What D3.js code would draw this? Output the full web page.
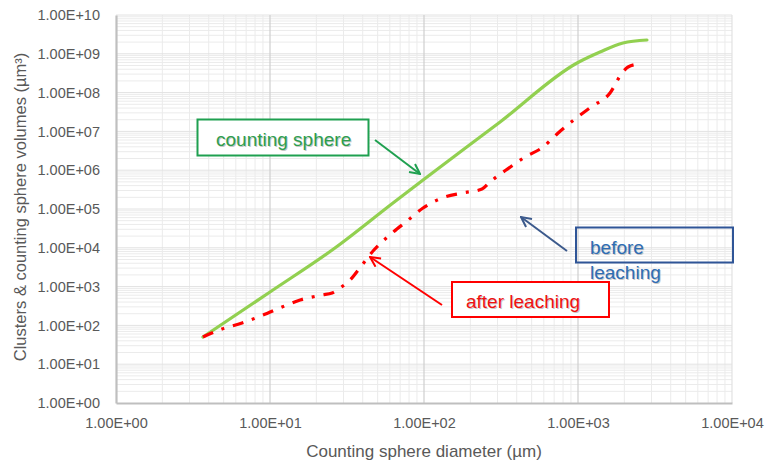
<!DOCTYPE html>
<html><head><meta charset="utf-8">
<script src="https://cdn.jsdelivr.net/npm/d3@7"></script>
<style>
html,body{margin:0;padding:0;background:#fff;}
svg{display:block;font-family:"Liberation Sans",Arial,sans-serif;}
</style></head>
<body><svg id="c" width="772" height="468"></svg>
<script>
// ---- data ----
const countingDiam = [3.67, 10.0, 26.4, 62.9, 98.6, 312, 986, 1390, 1960, 2805];
const countingVol  = [50.2, 726, 9890, 1.43e5, 5.59e5, 1.75e7, 5.79e8, 1.11e9, 1.9e9, 2.27e9];

const afterDiam = [3.67, 4.88, 6.58, 9.0, 11.97, 15.7, 21.8, 25.3, 28.5, 33.1, 39.6, 47.3, 62.0, 77.6, 98.6,
                   131, 177, 238, 268, 341, 453, 593, 731, 957, 1214, 1614, 1932, 2113, 2489];
const afterVol  = [50.2, 80.7, 115, 185, 298, 452, 608, 684, 920, 1480, 3600, 8770, 24000, 49100, 106000,
                   192000, 258000, 327000, 497000, 1.01e6, 2.19e6, 3.96e6, 8.57e6, 2.09e7, 4.26e7, 9.77e7, 3.2e8, 4.57e8, 5.46e8];

const xTickValues = [1, 10, 100, 1000, 10000];
const xTickLabels = ["1.00E+00", "1.00E+01", "1.00E+02", "1.00E+03", "1.00E+04"];
const yTickValues = [1, 10, 100, 1e3, 1e4, 1e5, 1e6, 1e7, 1e8, 1e9, 1e10];
const yTickLabels = ["1.00E+00", "1.00E+01", "1.00E+02", "1.00E+03", "1.00E+04", "1.00E+05",
                     "1.00E+06", "1.00E+07", "1.00E+08", "1.00E+09", "1.00E+10"];

const xTitle = "Counting sphere diameter (µm)";
const yTitle = "Clusters & counting sphere volumes (µm³)";

// ---- layout ----
const L = 116, R = 732, T = 15, B = 403;
const svg = d3.select("#c");
const x = d3.scaleLog().domain([1, 1e4]).range([L, R]);
const y = d3.scaleLog().domain([1, 1e10]).range([B, T]);

// minor grid
const minorX = [], minorY = [];
for (let e = 0; e < 4; e++) for (let m = 2; m <= 9; m++) minorX.push(m * Math.pow(10, e));
for (let e = 0; e < 10; e++) for (let m = 2; m <= 9; m++) minorY.push(m * Math.pow(10, e));

const grid = svg.append("g");
grid.selectAll(".mx").data(minorX).join("line")
  .attr("x1", d => x(d)).attr("x2", d => x(d)).attr("y1", T).attr("y2", B)
  .attr("stroke", "#ebebeb").attr("stroke-width", 1);
grid.selectAll(".my").data(minorY).join("line")
  .attr("x1", L).attr("x2", R).attr("y1", d => y(d)).attr("y2", d => y(d))
  .attr("stroke", "#ebebeb").attr("stroke-width", 1);
grid.selectAll(".My").data(yTickValues.slice(1)).join("line")
  .attr("x1", L).attr("x2", R).attr("y1", d => y(d)).attr("y2", d => y(d))
  .attr("stroke", "#e2e2e2").attr("stroke-width", 1);
grid.selectAll(".Mx").data(xTickValues.slice(1)).join("line")
  .attr("x1", d => x(d)).attr("x2", d => x(d)).attr("y1", T).attr("y2", B)
  .attr("stroke", d => d === 1e4 ? "#e2e2e2" : "#cfcfcf").attr("stroke-width", 1.2);

// axes
const xAxis = d3.axisBottom(x).tickValues(xTickValues).tickFormat((d, i) => xTickLabels[i]).tickSize(0).tickPadding(15);
const yAxis = d3.axisLeft(y).tickValues(yTickValues).tickFormat((d, i) => yTickLabels[i]).tickSize(0).tickPadding(16);
const gx = svg.append("g").attr("transform", `translate(0,${B})`).call(xAxis);
const gy = svg.append("g").attr("transform", `translate(${L},0)`).call(yAxis);
[gx, gy].forEach(g => {
  g.select(".domain").attr("stroke", "#bfbfbf").attr("stroke-width", 2.2);
  g.selectAll("text").attr("fill", "#595959").style("font-size", "14.5px")
   .style("font-family", "'Liberation Sans',Arial,sans-serif");
});

// titles
svg.append("text").attr("x", 424).attr("y", 457).attr("text-anchor", "middle")
  .attr("fill", "#595959").style("font-size", "17px").text(xTitle);
svg.append("text").attr("transform", `translate(26,207) rotate(-90)`)
  .attr("text-anchor", "middle").attr("fill", "#595959").style("font-size", "16.5px").text(yTitle);

// series
const greenPts = countingDiam.map((d, i) => [d, countingVol[i]]);
const redPts = afterDiam.map((d, i) => [d, afterVol[i]]);
const line = d3.line().x(d => x(d[0])).y(d => y(d[1])).curve(d3.curveMonotoneX);

svg.append("path").attr("d", line(greenPts)).attr("fill", "none")
  .attr("stroke", "#92d050").attr("stroke-width", 3.2).attr("stroke-linecap", "round");
svg.append("path").attr("d", line(redPts)).attr("fill", "none")
  .attr("stroke", "#ff0000").attr("stroke-width", 3.2).attr("stroke-dasharray", "11,9,3,9");

// arrow markers
const defs = svg.append("defs");
function marker(id, color) {
  defs.append("marker").attr("id", id).attr("viewBox", "0 0 12 12").attr("refX", 11).attr("refY", 6)
    .attr("markerWidth", 12).attr("markerHeight", 12).attr("markerUnits", "userSpaceOnUse").attr("orient", "auto")
    .append("path").attr("d", "M1,1 L11,6 L1,11").attr("fill", "none").attr("stroke", color).attr("stroke-width", 2);
}
marker("ag", "#1fa050");
marker("ab", "#3c5a8c");
marker("ar", "#ff0000");

// annotations
const ann = svg.append("g");
function label(txt, tx, ty, color, size) {
  ann.append("text").attr("x", tx + 1).attr("y", ty + 1).attr("fill", "#9a9a9a").attr("opacity", 0.55)
    .style("font-size", size + "px").text(txt);
  ann.append("text").attr("x", tx).attr("y", ty).attr("fill", color).style("font-size", size + "px").text(txt);
}
// counting sphere
ann.append("rect").attr("x", 197.5).attr("y", 119.5).attr("width", 171).attr("height", 36)
  .attr("fill", "#fff").attr("stroke", "#1fa050").attr("stroke-width", 2);
label("counting sphere", 216, 146, "#2e9e4e", 19);
ann.append("line").attr("x1", 375).attr("y1", 140).attr("x2", 420).attr("y2", 174)
  .attr("stroke", "#1fa050").attr("stroke-width", 2).attr("marker-end", "url(#ag)");
// before leaching
ann.append("rect").attr("x", 576).attr("y", 227.5).attr("width", 157).attr("height", 35)
  .attr("fill", "none").attr("stroke", "#2f5597").attr("stroke-width", 2);
label("before", 590, 254, "#2e6db4", 19);
label("leaching", 590, 279, "#2e6db4", 19);
ann.append("line").attr("x1", 567).attr("y1", 251).attr("x2", 521).attr("y2", 217)
  .attr("stroke", "#3c5a8c").attr("stroke-width", 2).attr("marker-end", "url(#ab)");
// after leaching
ann.append("rect").attr("x", 452).attr("y", 282).attr("width", 157).attr("height", 35)
  .attr("fill", "#fff").attr("stroke", "#ff0000").attr("stroke-width", 2);
label("after leaching", 466, 308, "#ee1111", 19);
ann.append("line").attr("x1", 442).attr("y1", 305).attr("x2", 370).attr("y2", 257)
  .attr("stroke", "#ff0000").attr("stroke-width", 2).attr("marker-end", "url(#ar)");
</script></body></html>
